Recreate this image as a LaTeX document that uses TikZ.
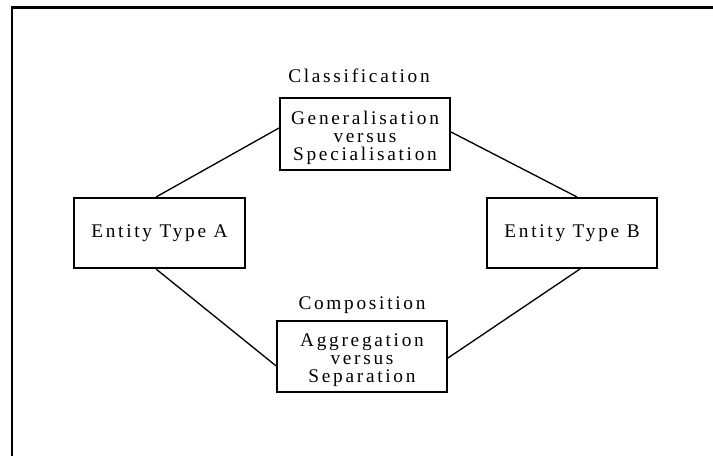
\documentclass[tikz,border=0pt]{standalone}
\usepackage{fontspec}
\setmainfont{Liberation Serif}[LetterSpace=14]
% taller first line, so the three-line texts sit a little low in their boxes
\newcommand{\toproom}{\rule{0pt}{15.5pt}}
\begin{document}
\begin{tikzpicture}[x=0.75pt, y=-0.75pt,
  box/.style={draw, line width=1.5pt, rectangle, inner sep=0pt, align=center,
    font=\fontsize{14.5}{13.5}\selectfont},
  link/.style={line width=1pt},
  heading/.style={font=\fontsize{14.5}{13.5}\selectfont, inner sep=0pt, anchor=base}]
  \useasboundingbox (0,0) rectangle (713,456);
  % outer frame, running off the right and lower edges
  \draw[line width=1.6pt] (720,7.5) -- (12,7.5) -- (12,470);

  \node[box, minimum width=127.5pt, minimum height=54pt] (gen) at (365,134)
    {\toproom Generalisation\\versus\\ Specialisation};
  \node[box, minimum width=128.25pt, minimum height=52.5pt] (enta) at (159.5,233)
    {Entity Type A};
  \node[box, minimum width=127.5pt, minimum height=52.5pt] (entb) at (572,233)
    {Entity Type B};
  \node[box, minimum width=127.5pt, minimum height=53.25pt] (agg) at (362,356.5)
    {\toproom Aggregation\\versus\\Separation};

  \node[heading] (cls) at (359,83) {Classification};
  \node[heading] (cmp) at (362,309) {Composition};

  \draw[link] ([xshift=-2.6pt]enta.north) -- ([yshift=4.5pt]gen.west);
  \draw[link] ([yshift=1.5pt]gen.east) -- ([xshift=3.75pt]entb.north);
  \draw[link] ([xshift=-2.6pt]enta.south) -- ([yshift=-7pt]agg.west);
  \draw[link] ([yshift=-1.1pt]agg.east) -- ([xshift=6pt]entb.south);
\end{tikzpicture}
\end{document}
